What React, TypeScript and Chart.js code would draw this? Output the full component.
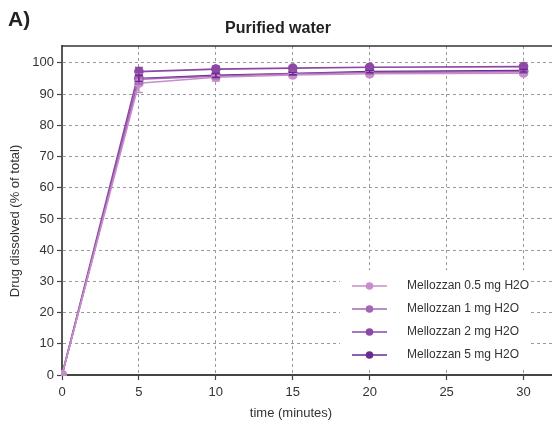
import React, { useEffect, useRef } from "react";
import { Chart, registerables } from "chart.js";

Chart.register(...registerables);

const times = [0, 5, 10, 15, 20, 30];
const seriesLabels = [
  "Mellozzan 0.5 mg H2O",
  "Mellozzan 1 mg H2O",
  "Mellozzan 2 mg H2O",
  "Mellozzan 5 mg H2O",
];
const seriesColors = ["#c78fc9", "#a466b4", "#8c48a4", "#6b2a8f"];
const values05 = [0, 93.5, 95.4, 96.1, 96.5, 96.7];
const values1 = [0, 94.8, 95.7, 96.5, 96.9, 97.2];
const values2 = [0, 97.2, 98.0, 98.3, 98.6, 98.8];
const values5 = [0, 95.0, 96.0, 96.6, 97.2, 97.5];
const errors05 = [0, 3.0, 1.2, 0.7, 0.6, 0.6];
const errors1 = [0, 1.6, 0.8, 0.5, 0.5, 0.5];
const errors2 = [0, 1.3, 1.0, 0.6, 0.5, 0.5];
const errors5 = [0, 1.0, 0.6, 0.4, 0.4, 0.4];
const yTicks = [0, 10, 20, 30, 40, 50, 60, 70, 80, 90, 100];
const xTicks = [0, 5, 10, 15, 20, 25, 30];
const chartTitle = "Purified water";
const panelLabel = "A)";
const xTitle = "time (minutes)";
const yTitle = "Drug dissolved (% of total)";

const allValues = [values05, values1, values2, values5];
const allErrors = [errors05, errors1, errors2, errors5];

const FONT = "'Liberation Sans', Arial, sans-serif";

const errorBarPlugin = {
  id: "errorBars",
  afterDatasetsDraw(chart: any) {
    const ctx = chart.ctx;
    const xs = chart.scales.x;
    const ys = chart.scales.y;
    ctx.save();
    allValues.forEach((vals, si) => {
      ctx.strokeStyle = seriesColors[si];
      ctx.lineWidth = 1.5;
      vals.forEach((v, i) => {
        const e = allErrors[si][i];
        if (!e) return;
        const px = xs.getPixelForValue(times[i]);
        const y1 = ys.getPixelForValue(v - e);
        const y2 = ys.getPixelForValue(v + e);
        ctx.beginPath();
        ctx.moveTo(px, y1);
        ctx.lineTo(px, y2);
        ctx.moveTo(px - 4, y1);
        ctx.lineTo(px + 4, y1);
        ctx.moveTo(px - 4, y2);
        ctx.lineTo(px + 4, y2);
        ctx.stroke();
      });
    });
    ctx.restore();
  },
};

const decorPlugin = {
  id: "decor",
  afterDraw(chart: any) {
    const ctx = chart.ctx;
    const area = chart.chartArea;
    ctx.save();
    // top border
    ctx.strokeStyle = "#333";
    ctx.lineWidth = 1.5;
    ctx.beginPath();
    ctx.moveTo(area.left, area.top);
    ctx.lineTo(area.right, area.top);
    ctx.stroke();
    // titles
    ctx.fillStyle = "#222";
    ctx.font = "bold 21px " + FONT;
    ctx.textAlign = "left";
    ctx.textBaseline = "middle";
    ctx.fillText(panelLabel, 8, 20);
    ctx.font = "bold 16px " + FONT;
    ctx.textAlign = "center";
    ctx.fillText(chartTitle, 278, 29);
    // axis titles
    ctx.fillStyle = "#333";
    ctx.font = "13px " + FONT;
    ctx.fillText(xTitle, 291, 413);
    ctx.save();
    ctx.translate(15, 221);
    ctx.rotate(-Math.PI / 2);
    ctx.fillText(yTitle, 0, 0);
    ctx.restore();
    // legend
    const x0 = 340, x1 = 531, top = 270, bottom = 369;
    ctx.fillStyle = "#fff";
    ctx.fillRect(x0, top, x1 - x0, bottom - top);
    const rows = [286, 309, 332, 355];
    seriesLabels.forEach((lab, i) => {
      const y = rows[i];
      ctx.strokeStyle = seriesColors[i];
      ctx.lineWidth = 1.5;
      ctx.beginPath();
      ctx.moveTo(352, y);
      ctx.lineTo(387, y);
      ctx.stroke();
      ctx.fillStyle = seriesColors[i];
      ctx.beginPath();
      ctx.arc(369.5, y, 3.8, 0, Math.PI * 2);
      ctx.fill();
      ctx.fillStyle = "#333";
      ctx.font = "12px " + FONT;
      ctx.textAlign = "left";
      ctx.textBaseline = "middle";
      ctx.fillText(lab, 407, y);
    });
    ctx.restore();
  },
};

export default function App() {
  const ref = useRef<HTMLCanvasElement | null>(null);
  useEffect(() => {
    if (!ref.current) return;
    const chart = new Chart(ref.current, {
      type: "line",
      data: {
        datasets: allValues.map((vals, si) => ({
          label: seriesLabels[si],
          data: vals.map((v, i) => ({ x: times[i], y: v })),
          borderColor: seriesColors[si],
          backgroundColor: seriesColors[si],
          borderWidth: 1.6,
          pointRadius: 4.8,
          pointHoverRadius: 4.8,
          pointBorderWidth: 0,
          tension: 0,
          clip: { left: 1, bottom: 1, top: 10, right: 10 },
        })),
      },
      options: {
        animation: false,
        responsive: false,
        maintainAspectRatio: false,
        layout: { autoPadding: false, padding: { top: 46, left: 0, right: 0, bottom: 0 } },
        plugins: {
          legend: { display: false },
          title: { display: false },
          tooltip: { enabled: false },
        },
        scales: {
          x: {
            type: "linear",
            min: 0,
            max: 31.85,
            afterFit: (s: any) => {
              s.height = 51;
              s.paddingRight = 0;
              s.paddingLeft = 0;
            },
            afterBuildTicks: (s: any) => {
              s.ticks = xTicks.map((v) => ({ value: v }));
            },
            ticks: {
              stepSize: 5,
              includeBounds: false,
              color: "#333",
              font: { family: FONT, size: 13 },
              padding: 5,
              maxRotation: 0,
            },
            grid: {
              color: "#9a9a9a",
              lineWidth: 1,
              tickLength: 5,
              tickColor: "#444",
              tickWidth: 1.2,
              tickBorderDash: [],
            },
            border: { display: true, color: "#444", width: 2, dash: [3, 3] },
            title: { display: false },
          },
          y: {
            type: "linear",
            min: 0,
            max: 105.4,
            afterFit: (s: any) => {
              s.width = 62;
            },
            afterBuildTicks: (s: any) => {
              s.ticks = yTicks.map((v) => ({ value: v }));
            },
            ticks: {
              stepSize: 10,
              includeBounds: false,
              color: "#333",
              font: { family: FONT, size: 13 },
              padding: 3,
            },
            grid: {
              color: "#9a9a9a",
              lineWidth: 1,
              tickLength: 5,
              tickColor: "#444",
              tickWidth: 1.2,
              tickBorderDash: [],
            },
            border: { display: true, color: "#555", width: 2, dash: [3, 3] },
            title: { display: false },
          },
        },
      },
      plugins: [errorBarPlugin, decorPlugin],
    } as any);
    return () => chart.destroy();
  }, []);
  return (
    <div style={{ position: "fixed", left: 0, top: 0, width: 552, height: 426, background: "#fff" }}>
      <canvas ref={ref} width={552} height={426} style={{ width: 552, height: 426, display: "block" }} />
    </div>
  );
}
